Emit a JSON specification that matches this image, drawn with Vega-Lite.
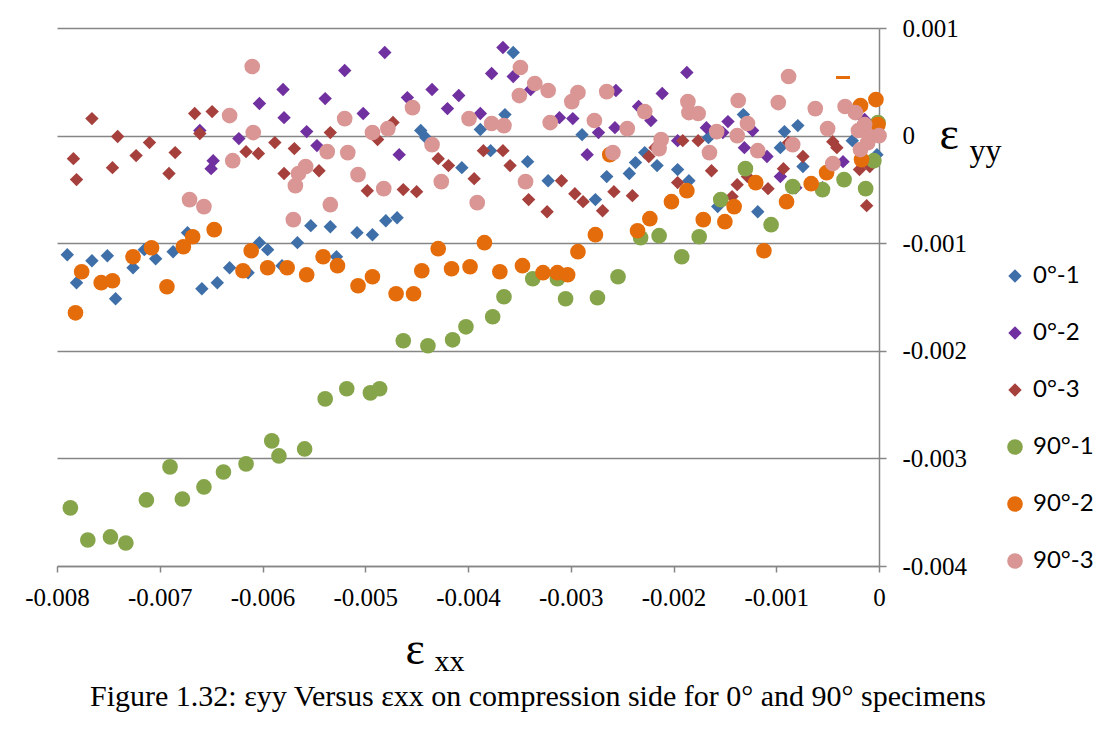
{
  "$schema": "https://vega.github.io/schema/vega-lite/v6.json",
  "width": 822,
  "height": 538,
  "autosize": {"type": "none"},
  "padding": {"left": 57, "top": 28, "right": 225, "bottom": 183},
  "background": "white",
  "config": {"view": {"stroke": null}},
  "title": {
    "text": "Figure 1.32: εyy Versus εxx on compression side for 0° and 90° specimens",
    "orient": "bottom",
    "anchor": "middle",
    "frame": "group",
    "dx": 70,
    "dy": 2,
    "offset": 4,
    "font": "Liberation Serif",
    "fontSize": 30,
    "fontWeight": "normal",
    "color": "black"
  },
  "datasets": {
    "pts": [
      {"series":"0°-1","exx":-0.00790,"eyy":-0.001107},{"series":"0°-1","exx":-0.00781,"eyy":-0.001367},{"series":"0°-1","exx":-0.00766,"eyy":-0.001163},{"series":"0°-1","exx":-0.00751,"eyy":-0.001116},{"series":"0°-1","exx":-0.00743,"eyy":-0.001516},{"series":"0°-1","exx":-0.00726,"eyy":-0.001228},{"series":"0°-1","exx":-0.00715,"eyy":-0.00106},{"series":"0°-1","exx":-0.00704,"eyy":-0.001144},{"series":"0°-1","exx":-0.00687,"eyy":-0.001079},{"series":"0°-1","exx":-0.00673,"eyy":-0.000902},{"series":"0°-1","exx":-0.00659,"eyy":-0.001423},{"series":"0°-1","exx":-0.00644,"eyy":-0.001367},{"series":"0°-1","exx":-0.00632,"eyy":-0.001228},{"series":"0°-1","exx":-0.00614,"eyy":-0.001274},{"series":"0°-1","exx":-0.00603,"eyy":-0.000995},{"series":"0°-1","exx":-0.00595,"eyy":-0.00106},{"series":"0°-1","exx":-0.00581,"eyy":-0.001209},{"series":"0°-1","exx":-0.00566,"eyy":-0.000995},{"series":"0°-1","exx":-0.00553,"eyy":-0.000837},{"series":"0°-1","exx":-0.00534,"eyy":-0.000847},{"series":"0°-1","exx":-0.00528,"eyy":-0.001126},{"series":"0°-1","exx":-0.00508,"eyy":-0.000902},{"series":"0°-1","exx":-0.00493,"eyy":-0.000921},{"series":"0°-1","exx":-0.00480,"eyy":-0.000791},{"series":"0°-1","exx":-0.00469,"eyy":-0.000763},{"series":"0°-1","exx":-0.00446,"eyy":0.000047},{"series":"0°-1","exx":-0.00441,"eyy":-0.000019},{"series":"0°-1","exx":-0.00406,"eyy":-0.000298},{"series":"0°-1","exx":-0.00388,"eyy":0.000056},{"series":"0°-1","exx":-0.00378,"eyy":-0.00014},{"series":"0°-1","exx":-0.00364,"eyy":0.000195},{"series":"0°-1","exx":-0.00356,"eyy":0.000772},{"series":"0°-1","exx":-0.00342,"eyy":-0.000242},{"series":"0°-1","exx":-0.00322,"eyy":-0.000419},{"series":"0°-1","exx":-0.00289,"eyy":0.000009},{"series":"0°-1","exx":-0.00276,"eyy":-0.000595},{"series":"0°-1","exx":-0.00265,"eyy":-0.000381},{"series":"0°-1","exx":-0.00243,"eyy":-0.000353},{"series":"0°-1","exx":-0.00237,"eyy":-0.000251},{"series":"0°-1","exx":-0.00228,"eyy":-0.000158},{"series":"0°-1","exx":-0.00216,"eyy":-0.000279},{"series":"0°-1","exx":-0.00196,"eyy":-0.000316},{"series":"0°-1","exx":-0.00185,"eyy":-0.000419},{"series":"0°-1","exx":-0.00166,"eyy":-0.000019},{"series":"0°-1","exx":-0.00157,"eyy":-0.00066},{"series":"0°-1","exx":-0.00132,"eyy":0.000195},{"series":"0°-1","exx":-0.00118,"eyy":-0.000707},{"series":"0°-1","exx":-0.00096,"eyy":-0.000112},{"series":"0°-1","exx":-0.00092,"eyy":0.000037},{"series":"0°-1","exx":-0.00079,"eyy":0.000093},{"series":"0°-1","exx":-0.00074,"eyy":-0.000288},{"series":"0°-1","exx":-0.00026,"eyy":-0.000047},{"series":"0°-1","exx":-0.00002,"eyy":-0.000177},
      {"series":"0°-2","exx":-0.00661,"eyy":0.000047},{"series":"0°-2","exx":-0.00650,"eyy":-0.000307},{"series":"0°-2","exx":-0.00648,"eyy":-0.000233},{"series":"0°-2","exx":-0.00623,"eyy":-0.000028},{"series":"0°-2","exx":-0.00603,"eyy":0.000298},{"series":"0°-2","exx":-0.00580,"eyy":0.000428},{"series":"0°-2","exx":-0.00579,"eyy":0.000167},{"series":"0°-2","exx":-0.00557,"eyy":0.000037},{"series":"0°-2","exx":-0.00547,"eyy":-0.000093},{"series":"0°-2","exx":-0.00539,"eyy":0.000344},{"series":"0°-2","exx":-0.00520,"eyy":0.000605},{"series":"0°-2","exx":-0.00502,"eyy":0.000205},{"series":"0°-2","exx":-0.00481,"eyy":0.000772},{"series":"0°-2","exx":-0.00467,"eyy":-0.000177},{"series":"0°-2","exx":-0.00459,"eyy":0.000353},{"series":"0°-2","exx":-0.00435,"eyy":0.000428},{"series":"0°-2","exx":-0.00420,"eyy":0.000251},{"series":"0°-2","exx":-0.00409,"eyy":0.000372},{"series":"0°-2","exx":-0.00388,"eyy":0.000205},{"series":"0°-2","exx":-0.00377,"eyy":0.000577},{"series":"0°-2","exx":-0.00366,"eyy":0.000819},{"series":"0°-2","exx":-0.00356,"eyy":0.000549},{"series":"0°-2","exx":-0.00339,"eyy":0.000428},{"series":"0°-2","exx":-0.00311,"eyy":0.000167},{"series":"0°-2","exx":-0.00298,"eyy":0.000158},{"series":"0°-2","exx":-0.00284,"eyy":-0.000177},{"series":"0°-2","exx":-0.00273,"eyy":0.000028},{"series":"0°-2","exx":-0.00257,"eyy":0.000074},{"series":"0°-2","exx":-0.00256,"eyy":0.000419},{"series":"0°-2","exx":-0.00234,"eyy":0.00027},{"series":"0°-2","exx":-0.00222,"eyy":0.00014},{"series":"0°-2","exx":-0.00211,"eyy":0.000391},{"series":"0°-2","exx":-0.00196,"eyy":-0.000047},{"series":"0°-2","exx":-0.00187,"eyy":0.000586},{"series":"0°-2","exx":-0.00168,"eyy":0.000074},{"series":"0°-2","exx":-0.00152,"eyy":0.000028},{"series":"0°-2","exx":-0.00147,"eyy":0.00013},{"series":"0°-2","exx":-0.00131,"eyy":-0.000112},{"series":"0°-2","exx":-0.00123,"eyy":0.000047},{"series":"0°-2","exx":-0.00109,"eyy":-0.000195},{"series":"0°-2","exx":-0.00096,"eyy":-0.000381},{"series":"0°-2","exx":-0.00081,"eyy":-0.000484},{"series":"0°-2","exx":-0.00055,"eyy":-0.000484},{"series":"0°-2","exx":-0.00035,"eyy":-0.000242},{"series":"0°-2","exx":-0.00014,"eyy":0.000149},
      {"series":"0°-3","exx":-0.00784,"eyy":-0.000214},{"series":"0°-3","exx":-0.00781,"eyy":-0.000409},{"series":"0°-3","exx":-0.00766,"eyy":0.000158},{"series":"0°-3","exx":-0.00746,"eyy":-0.000298},{"series":"0°-3","exx":-0.00741,"eyy":-0.000009},{"series":"0°-3","exx":-0.00723,"eyy":-0.000186},{"series":"0°-3","exx":-0.00710,"eyy":-0.000065},{"series":"0°-3","exx":-0.00691,"eyy":-0.000353},{"series":"0°-3","exx":-0.00685,"eyy":-0.000158},{"series":"0°-3","exx":-0.00666,"eyy":0.000205},{"series":"0°-3","exx":-0.00661,"eyy":0.000019},{"series":"0°-3","exx":-0.00649,"eyy":0.000223},{"series":"0°-3","exx":-0.00616,"eyy":-0.000149},{"series":"0°-3","exx":-0.00604,"eyy":-0.000167},{"series":"0°-3","exx":-0.00588,"eyy":-0.000065},{"series":"0°-3","exx":-0.00579,"eyy":-0.000353},{"series":"0°-3","exx":-0.00569,"eyy":-0.000121},{"series":"0°-3","exx":-0.00545,"eyy":-0.000326},{"series":"0°-3","exx":-0.00534,"eyy":0.000028},{"series":"0°-3","exx":-0.00517,"eyy":-0.000149},{"series":"0°-3","exx":-0.00498,"eyy":-0.000512},{"series":"0°-3","exx":-0.00488,"eyy":-0.000037},{"series":"0°-3","exx":-0.00473,"eyy":0.000121},{"series":"0°-3","exx":-0.00463,"eyy":-0.000502},{"series":"0°-3","exx":-0.00450,"eyy":-0.000521},{"series":"0°-3","exx":-0.00429,"eyy":-0.000214},{"series":"0°-3","exx":-0.00419,"eyy":-0.000279},{"series":"0°-3","exx":-0.00394,"eyy":-0.0004},{"series":"0°-3","exx":-0.00385,"eyy":-0.00014},{"series":"0°-3","exx":-0.00366,"eyy":-0.00014},{"series":"0°-3","exx":-0.00359,"eyy":-0.000279},{"series":"0°-3","exx":-0.00341,"eyy":-0.000595},{"series":"0°-3","exx":-0.00323,"eyy":-0.000707},{"series":"0°-3","exx":-0.00309,"eyy":-0.000419},{"series":"0°-3","exx":-0.00296,"eyy":-0.00054},{"series":"0°-3","exx":-0.00288,"eyy":-0.000614},{"series":"0°-3","exx":-0.00269,"eyy":-0.000698},{"series":"0°-3","exx":-0.00258,"eyy":-0.000521},{"series":"0°-3","exx":-0.00240,"eyy":-0.000558},{"series":"0°-3","exx":-0.00224,"eyy":-0.000195},{"series":"0°-3","exx":-0.00218,"eyy":-0.000112},{"series":"0°-3","exx":-0.00196,"eyy":-0.000437},{"series":"0°-3","exx":-0.00191,"eyy":-0.000047},{"series":"0°-3","exx":-0.00176,"eyy":-0.000047},{"series":"0°-3","exx":-0.00163,"eyy":-0.000326},{"series":"0°-3","exx":-0.00143,"eyy":-0.000567},{"series":"0°-3","exx":-0.00138,"eyy":-0.000456},{"series":"0°-3","exx":-0.00128,"eyy":-0.000381},{"series":"0°-3","exx":-0.00108,"eyy":-0.000493},{"series":"0°-3","exx":-0.00093,"eyy":-0.000307},{"series":"0°-3","exx":-0.00088,"eyy":-0.000065},{"series":"0°-3","exx":-0.00074,"eyy":-0.000195},{"series":"0°-3","exx":-0.00045,"eyy":-0.000056},{"series":"0°-3","exx":-0.00041,"eyy":-0.000112},{"series":"0°-3","exx":-0.00019,"eyy":-0.000316},{"series":"0°-3","exx":-0.00012,"eyy":-0.000651},{"series":"0°-3","exx":-0.00009,"eyy":-0.000288},
      {"series":"90°-1","exx":-0.00787,"eyy":-0.00346},{"series":"90°-1","exx":-0.00770,"eyy":-0.003758},{"series":"90°-1","exx":-0.00748,"eyy":-0.00373},{"series":"90°-1","exx":-0.00733,"eyy":-0.003786},{"series":"90°-1","exx":-0.00713,"eyy":-0.003386},{"series":"90°-1","exx":-0.00690,"eyy":-0.003079},{"series":"90°-1","exx":-0.00678,"eyy":-0.003377},{"series":"90°-1","exx":-0.00657,"eyy":-0.003265},{"series":"90°-1","exx":-0.00638,"eyy":-0.003126},{"series":"90°-1","exx":-0.00616,"eyy":-0.003051},{"series":"90°-1","exx":-0.00591,"eyy":-0.002837},{"series":"90°-1","exx":-0.00584,"eyy":-0.002977},{"series":"90°-1","exx":-0.00559,"eyy":-0.002912},{"series":"90°-1","exx":-0.00539,"eyy":-0.002447},{"series":"90°-1","exx":-0.00518,"eyy":-0.002353},{"series":"90°-1","exx":-0.00495,"eyy":-0.002391},{"series":"90°-1","exx":-0.00486,"eyy":-0.002353},{"series":"90°-1","exx":-0.00463,"eyy":-0.001907},{"series":"90°-1","exx":-0.00439,"eyy":-0.001953},{"series":"90°-1","exx":-0.00415,"eyy":-0.001898},{"series":"90°-1","exx":-0.00402,"eyy":-0.001777},{"series":"90°-1","exx":-0.00376,"eyy":-0.001684},{"series":"90°-1","exx":-0.00365,"eyy":-0.001498},{"series":"90°-1","exx":-0.00337,"eyy":-0.00133},{"series":"90°-1","exx":-0.00313,"eyy":-0.00133},{"series":"90°-1","exx":-0.00305,"eyy":-0.001516},{"series":"90°-1","exx":-0.00274,"eyy":-0.001507},{"series":"90°-1","exx":-0.00254,"eyy":-0.001312},{"series":"90°-1","exx":-0.00232,"eyy":-0.000949},{"series":"90°-1","exx":-0.00214,"eyy":-0.00093},{"series":"90°-1","exx":-0.00192,"eyy":-0.001126},{"series":"90°-1","exx":-0.00175,"eyy":-0.00094},{"series":"90°-1","exx":-0.00154,"eyy":-0.000595},{"series":"90°-1","exx":-0.00130,"eyy":-0.000307},{"series":"90°-1","exx":-0.00105,"eyy":-0.000828},{"series":"90°-1","exx":-0.00084,"eyy":-0.000474},{"series":"90°-1","exx":-0.00055,"eyy":-0.000502},{"series":"90°-1","exx":-0.00034,"eyy":-0.000409},{"series":"90°-1","exx":-0.00013,"eyy":-0.000493},{"series":"90°-1","exx":-0.00005,"eyy":-0.000233},{"series":"90°-1","exx":-0.00001,"eyy":0.000121},
      {"series":"90°-2","exx":-0.00782,"eyy":-0.001647},{"series":"90°-2","exx":-0.00776,"eyy":-0.001265},{"series":"90°-2","exx":-0.00757,"eyy":-0.001367},{"series":"90°-2","exx":-0.00746,"eyy":-0.001349},{"series":"90°-2","exx":-0.00726,"eyy":-0.001126},{"series":"90°-2","exx":-0.00708,"eyy":-0.001042},{"series":"90°-2","exx":-0.00693,"eyy":-0.001405},{"series":"90°-2","exx":-0.00677,"eyy":-0.001033},{"series":"90°-2","exx":-0.00668,"eyy":-0.00094},{"series":"90°-2","exx":-0.00647,"eyy":-0.000874},{"series":"90°-2","exx":-0.00619,"eyy":-0.001256},{"series":"90°-2","exx":-0.00611,"eyy":-0.00107},{"series":"90°-2","exx":-0.00595,"eyy":-0.001228},{"series":"90°-2","exx":-0.00576,"eyy":-0.001228},{"series":"90°-2","exx":-0.00557,"eyy":-0.001293},{"series":"90°-2","exx":-0.00541,"eyy":-0.001126},{"series":"90°-2","exx":-0.00527,"eyy":-0.001209},{"series":"90°-2","exx":-0.00507,"eyy":-0.001395},{"series":"90°-2","exx":-0.00493,"eyy":-0.001312},{"series":"90°-2","exx":-0.00470,"eyy":-0.00147},{"series":"90°-2","exx":-0.00453,"eyy":-0.00147},{"series":"90°-2","exx":-0.00445,"eyy":-0.001256},{"series":"90°-2","exx":-0.00429,"eyy":-0.001051},{"series":"90°-2","exx":-0.00416,"eyy":-0.001237},{"series":"90°-2","exx":-0.00398,"eyy":-0.001219},{"series":"90°-2","exx":-0.00384,"eyy":-0.000995},{"series":"90°-2","exx":-0.00369,"eyy":-0.001265},{"series":"90°-2","exx":-0.00347,"eyy":-0.001209},{"series":"90°-2","exx":-0.00327,"eyy":-0.001274},{"series":"90°-2","exx":-0.00313,"eyy":-0.001274},{"series":"90°-2","exx":-0.00303,"eyy":-0.001293},{"series":"90°-2","exx":-0.00293,"eyy":-0.001079},{"series":"90°-2","exx":-0.00276,"eyy":-0.000921},{"series":"90°-2","exx":-0.00262,"eyy":-0.000177},{"series":"90°-2","exx":-0.00235,"eyy":-0.000884},{"series":"90°-2","exx":-0.00223,"eyy":-0.000772},{"series":"90°-2","exx":-0.00202,"eyy":-0.000614},{"series":"90°-2","exx":-0.00187,"eyy":-0.000512},{"series":"90°-2","exx":-0.00171,"eyy":-0.000781},{"series":"90°-2","exx":-0.00150,"eyy":-0.0008},{"series":"90°-2","exx":-0.00141,"eyy":-0.00066},{"series":"90°-2","exx":-0.00120,"eyy":-0.000437},{"series":"90°-2","exx":-0.00112,"eyy":-0.00107},{"series":"90°-2","exx":-0.00090,"eyy":-0.000614},{"series":"90°-2","exx":-0.00066,"eyy":-0.000447},{"series":"90°-2","exx":-0.00051,"eyy":-0.000344},{"series":"90°-2","exx":-0.00018,"eyy":0.000279},{"series":"90°-2","exx":-0.00017,"eyy":-0.000223},{"series":"90°-2","exx":-0.00003,"eyy":0.000335},{"series":"90°-2","exx":-0.00001,"eyy":0.000102},
      {"series":"90°-3","exx":-0.00671,"eyy":-0.000595},{"series":"90°-3","exx":-0.00657,"eyy":-0.00066},{"series":"90°-3","exx":-0.00632,"eyy":0.000186},{"series":"90°-3","exx":-0.00629,"eyy":-0.000233},{"series":"90°-3","exx":-0.00610,"eyy":0.000642},{"series":"90°-3","exx":-0.00609,"eyy":0.000028},{"series":"90°-3","exx":-0.00570,"eyy":-0.000781},{"series":"90°-3","exx":-0.00568,"eyy":-0.000465},{"series":"90°-3","exx":-0.00565,"eyy":-0.000353},{"series":"90°-3","exx":-0.00558,"eyy":-0.000288},{"series":"90°-3","exx":-0.00537,"eyy":-0.000149},{"series":"90°-3","exx":-0.00534,"eyy":-0.000642},{"series":"90°-3","exx":-0.00520,"eyy":0.000158},{"series":"90°-3","exx":-0.00517,"eyy":-0.000158},{"series":"90°-3","exx":-0.00507,"eyy":-0.000363},{"series":"90°-3","exx":-0.00493,"eyy":0.000028},{"series":"90°-3","exx":-0.00482,"eyy":-0.000493},{"series":"90°-3","exx":-0.00478,"eyy":0.000065},{"series":"90°-3","exx":-0.00454,"eyy":0.00026},{"series":"90°-3","exx":-0.00435,"eyy":-0.000084},{"series":"90°-3","exx":-0.00426,"eyy":-0.000428},{"series":"90°-3","exx":-0.00399,"eyy":0.000158},{"series":"90°-3","exx":-0.00391,"eyy":-0.000623},{"series":"90°-3","exx":-0.00377,"eyy":0.000112},{"series":"90°-3","exx":-0.00365,"eyy":0.000093},{"series":"90°-3","exx":-0.00350,"eyy":0.000372},{"series":"90°-3","exx":-0.00349,"eyy":0.000633},{"series":"90°-3","exx":-0.00344,"eyy":-0.000428},{"series":"90°-3","exx":-0.00335,"eyy":0.000484},{"series":"90°-3","exx":-0.00322,"eyy":0.000419},{"series":"90°-3","exx":-0.00320,"eyy":0.000121},{"series":"90°-3","exx":-0.00299,"eyy":0.000316},{"series":"90°-3","exx":-0.00293,"eyy":0.0004},{"series":"90°-3","exx":-0.00277,"eyy":0.00014},{"series":"90°-3","exx":-0.00265,"eyy":0.000409},{"series":"90°-3","exx":-0.00259,"eyy":-0.000158},{"series":"90°-3","exx":-0.00245,"eyy":0.000065},{"series":"90°-3","exx":-0.00228,"eyy":0.000223},{"series":"90°-3","exx":-0.00214,"eyy":-0.000121},{"series":"90°-3","exx":-0.00212,"eyy":-0.000037},{"series":"90°-3","exx":-0.00186,"eyy":0.000316},{"series":"90°-3","exx":-0.00185,"eyy":0.000214},{"series":"90°-3","exx":-0.00176,"eyy":0.000205},{"series":"90°-3","exx":-0.00165,"eyy":-0.000158},{"series":"90°-3","exx":-0.00158,"eyy":0.000037},{"series":"90°-3","exx":-0.00138,"eyy":0.0},{"series":"90°-3","exx":-0.00137,"eyy":0.000326},{"series":"90°-3","exx":-0.00128,"eyy":0.000112},{"series":"90°-3","exx":-0.00118,"eyy":-0.00014},{"series":"90°-3","exx":-0.00098,"eyy":0.000307},{"series":"90°-3","exx":-0.00088,"eyy":0.000549},{"series":"90°-3","exx":-0.00084,"eyy":-0.000084},{"series":"90°-3","exx":-0.00062,"eyy":0.000251},{"series":"90°-3","exx":-0.00050,"eyy":0.000065},{"series":"90°-3","exx":-0.00045,"eyy":-0.00026},{"series":"90°-3","exx":-0.00033,"eyy":0.00027},{"series":"90°-3","exx":-0.00023,"eyy":0.000214},{"series":"90°-3","exx":-0.00020,"eyy":0.000047},{"series":"90°-3","exx":-0.00018,"eyy":-0.00013},{"series":"90°-3","exx":-0.00014,"eyy":0.000102},{"series":"90°-3","exx":-0.00011,"eyy":-0.000065},{"series":"90°-3","exx":-0.00009,"eyy":-0.000009},{"series":"90°-3","exx":0.0,"eyy":0.0}
    ],
    "dash": [{"exx": -0.00035, "eyy": 0.00054}]
  },
  "layer": [
    {
      "data": {"name": "pts"},
      "mark": {"type": "point", "filled": true, "opacity": 1, "strokeWidth": 0},
      "encoding": {
        "x": {
          "field": "exx", "type": "quantitative",
          "scale": {"domain": [-0.008, 0], "nice": false, "zero": false},
          "axis": {
            "orient": "bottom",
            "values": [-0.008, -0.007, -0.006, -0.005, -0.004, -0.003, -0.002, -0.001, 0],
            "labelExpr": "datum.value == 0 ? '0' : '-' + format(abs(datum.value), '.3f')",
            "labelFlush": false, "labelOverlap": false,
            "grid": false, "domainColor": "#868686", "domainWidth": 1.5,
            "tickColor": "#868686", "tickWidth": 1.5, "tickSize": 6,
            "labelFont": "Liberation Serif", "labelFontSize": 25, "labelColor": "black", "labelPadding": 13,
            "title": "ε", "titleFont": "Liberation Serif", "titleFontSize": 46, "titleFontWeight": "normal", "titleColor": "black",
            "titleX": 348, "titleY": 97, "titleAlign": "left", "titleBaseline": "alphabetic", "titleAngle": 0
          }
        },
        "y": {
          "field": "eyy", "type": "quantitative",
          "scale": {"domain": [-0.004, 0.001], "nice": false, "zero": false},
          "axis": {
            "orient": "right",
            "values": [-0.004, -0.003, -0.002, -0.001, 0, 0.001],
            "labelExpr": "datum.value == 0 ? '0' : (datum.value < 0 ? '-' : '') + format(abs(datum.value), '.3f')",
            "labelFlush": false, "labelOverlap": false,
            "grid": true, "gridColor": "#868686", "gridWidth": 1.5,
            "domainColor": "#868686", "domainWidth": 1.5,
            "tickColor": "#868686", "tickWidth": 1.5, "tickSize": 7,
            "labelFont": "Liberation Serif", "labelFontSize": 25, "labelColor": "black", "labelPadding": 16,
            "labelAlign": "left", "labelBaseline": "middle",
            "title": "ε", "titleFont": "Liberation Serif", "titleFontSize": 46, "titleFontWeight": "normal", "titleColor": "black",
            "titleX": 60, "titleY": 120, "titleAlign": "left", "titleBaseline": "alphabetic", "titleAngle": 0
          }
        },
        "color": {
          "field": "series", "type": "nominal",
          "scale": {
            "domain": ["0°-1", "0°-2", "0°-3", "90°-1", "90°-2", "90°-3"],
            "range": ["#3F6FA8", "#7030A0", "#A6403D", "#86A44A", "#E46C0A", "#D99694"]
          },
          "legend": {
            "title": null, "orient": "none", "legendX": 946, "legendY": 236,
            "labelFont": "Lato", "labelFontSize": 24, "labelColor": "black",
            "symbolSize": 150, "symbolStrokeWidth": 0, "rowPadding": 33, "labelOffset": 6
          }
        },
        "shape": {
          "field": "series", "type": "nominal",
          "scale": {
            "domain": ["0°-1", "0°-2", "0°-3", "90°-1", "90°-2", "90°-3"],
            "range": ["diamond", "diamond", "diamond", "circle", "circle", "circle"]
          }
        },
        "size": {
          "field": "series", "type": "nominal",
          "scale": {
            "type": "ordinal",
            "domain": ["0°-1", "0°-2", "0°-3", "90°-1", "90°-2", "90°-3"],
            "range": [180, 180, 180, 245, 245, 245]
          },
          "legend": null
        }
      }
    },
    {
      "data": {"name": "dash"},
      "mark": {"type": "tick", "orient": "horizontal", "color": "#E46C0A", "size": 14, "thickness": 3, "opacity": 1},
      "encoding": {
        "x": {
          "field": "exx", "type": "quantitative",
          "scale": {"domain": [-0.008, 0], "nice": false, "zero": false},
          "axis": {
            "orient": "bottom",
            "labels": false, "ticks": false, "domain": false, "grid": false,
            "title": "xx", "titleFont": "Liberation Serif", "titleFontSize": 30, "titleFontWeight": "normal", "titleColor": "black",
            "titleX": 377, "titleY": 104, "titleAlign": "left", "titleBaseline": "alphabetic", "titleAngle": 0
          }
        },
        "y": {
          "field": "eyy", "type": "quantitative",
          "scale": {"domain": [-0.004, 0.001], "nice": false, "zero": false},
          "axis": {
            "orient": "right",
            "labels": false, "ticks": false, "domain": false, "grid": false,
            "title": "yy", "titleFont": "Liberation Serif", "titleFontSize": 32, "titleFontWeight": "normal", "titleColor": "black",
            "titleX": 90, "titleY": 132, "titleAlign": "left", "titleBaseline": "alphabetic", "titleAngle": 0
          }
        }
      }
    }
  ],
  "resolve": {"scale": {"x": "independent", "y": "independent"}}
}
